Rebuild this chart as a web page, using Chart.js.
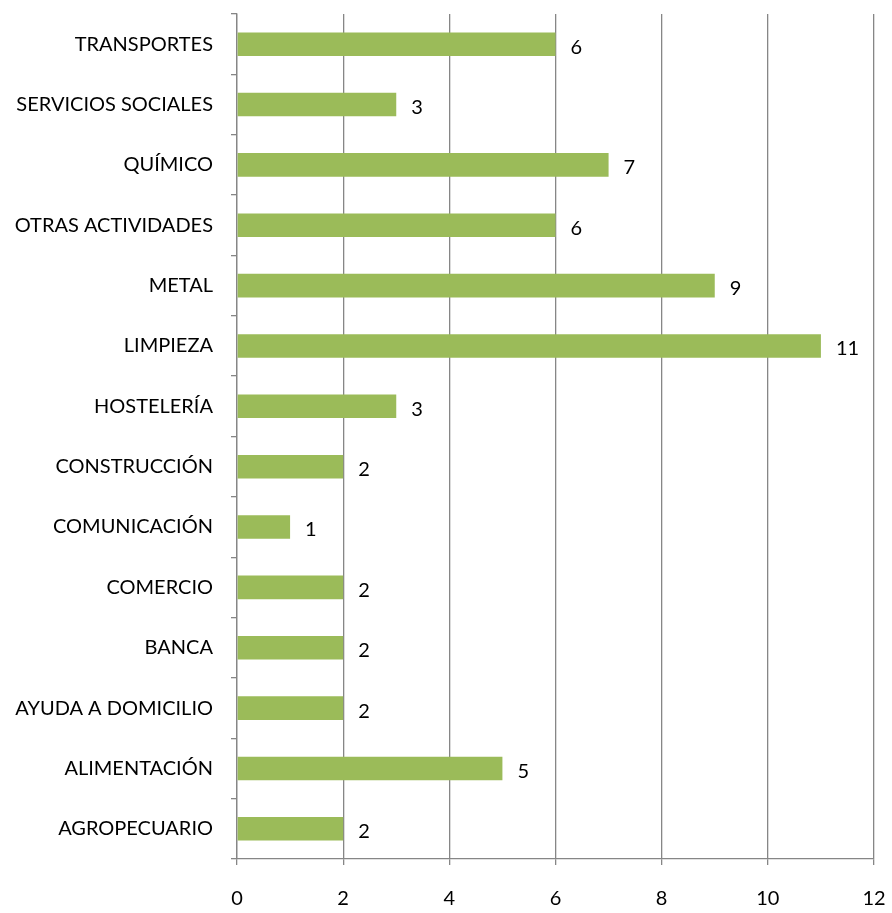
<!DOCTYPE html>
<html><head><meta charset="utf-8">
<script src="https://cdn.jsdelivr.net/npm/chart.js@4/dist/chart.umd.min.js"></script>
<style>html,body{margin:0;padding:0;background:#fff}#wrap{width:892px;height:913px}</style>
</head><body><div id="wrap"><canvas id="c" width="892" height="913"></canvas></div>
<script>
const categories = ["TRANSPORTES","SERVICIOS SOCIALES","QUÍMICO","OTRAS ACTIVIDADES","METAL","LIMPIEZA","HOSTELERÍA","CONSTRUCCIÓN","COMUNICACIÓN","COMERCIO","BANCA","AYUDA A DOMICILIO","ALIMENTACIÓN","AGROPECUARIO"];
const values = [6,3,7,6,9,11,3,2,1,2,2,2,5,2];
const xTicks = [0,2,4,6,8,10,12];

const FONT = "Lato, 'Open Sans', sans-serif";
const labelPlugin = {
  id: 'vlabels',
  afterDatasetsDraw(chart) {
    const ctx = chart.ctx;
    const meta = chart.getDatasetMeta(0);
    ctx.save();
    ctx.font = "20px " + FONT;
    ctx.fillStyle = "#000";
    ctx.textAlign = "left";
    ctx.textBaseline = "middle";
    meta.data.forEach((bar, i) => {
      ctx.fillText(String(values[i]), bar.x + 15, bar.y + 3);
    });
    ctx.restore();
  }
};

new Chart(document.getElementById('c'), {
  type: 'bar',
  data: { labels: categories, datasets: [{ data: values, backgroundColor: '#9BBB59', borderWidth: 0, categoryPercentage: 0.78, barPercentage: 0.5 }] },
  options: {
    indexAxis: 'y',
    responsive: false,
    animation: false,
    layout: { padding: { top: 14, right: 18, left: 0, bottom: 0 } },
    plugins: { legend: { display: false }, tooltip: { enabled: false } },
    scales: {
      x: {
        min: 0, max: 12,
        afterBuildTicks(s) { s.ticks = xTicks.map(v => ({ value: v })); },
        afterFit(s) { s.height = 54; s.paddingLeft = 0; s.paddingRight = 0; },
        grid: { color: '#868686', lineWidth: 1.3, drawTicks: true, tickLength: 6 },
        border: { color: '#868686', width: 1.3 },
        ticks: { color: '#000', font: { size: 20, family: FONT }, padding: 22, maxRotation: 0 }
      },
      y: {
        afterFit(s) { s.width = 237; s.paddingTop = 0; s.paddingBottom = 0; },
        grid: { drawOnChartArea: false, drawTicks: true, tickLength: 6, color: '#868686', lineWidth: 1.3, offset: true },
        border: { color: '#868686', width: 1.3 },
        ticks: { color: '#000', font: { size: 20, family: FONT }, padding: 18, autoSkip: false }
      }
    }
  },
  plugins: [labelPlugin]
});
</script></body></html>
